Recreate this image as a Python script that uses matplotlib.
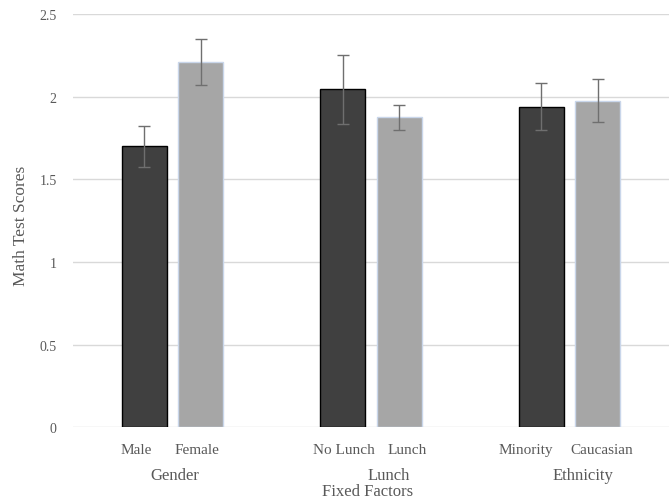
import matplotlib.pyplot as plt
import numpy as np

plt.rcParams['font.family'] = ['Liberation Serif', 'DejaVu Serif']

groups = ['Gender', 'Lunch', 'Ethnicity']
first_labels = ['Male', 'No Lunch', 'Minority']
second_labels = ['Female', 'Lunch', 'Caucasian']
first_means = [1.70, 2.045, 1.94]
first_err = [0.125, 0.21, 0.14]
second_means = [2.21, 1.875, 1.975]
second_err = [0.14, 0.077, 0.13]

text_color = '#595959'
px = 72 / 100  # points per pixel at dpi 100

fig = plt.figure(figsize=(6.72, 5.02), dpi=100)
ax = fig.add_axes([0.109, 0.147, 0.886, 0.823])

x = np.arange(len(groups))
w = 0.226
off = 0.142

ax.bar(x - off, first_means, w, color='#404040', edgecolor='black', linewidth=1.0, zorder=2)
ax.bar(x + off, second_means, w, color='#a6a6a6', edgecolor='#c9d6ea', linewidth=1.0, zorder=2)
ax.errorbar(x - off, first_means, yerr=first_err, fmt='none', ecolor='#6f6f6f',
            elinewidth=1.0, capsize=4, capthick=1.0, zorder=3)
ax.errorbar(x + off, second_means, yerr=second_err, fmt='none', ecolor='#6f6f6f',
            elinewidth=1.0, capsize=4, capthick=1.0, zorder=3)

ax.set_xlim(-0.5, 2.5)
ax.set_ylim(0, 2.5)
ax.set_yticks([0, 0.5, 1, 1.5, 2, 2.5])
ax.set_yticklabels(['0', '0.5', '1', '1.5', '2', '2.5'])
ax.yaxis.grid(True, color='#d9d9d9', linewidth=1.0, zorder=0)
ax.set_axisbelow(True)
for s in ax.spines.values():
    s.set_visible(False)
ax.tick_params(axis='y', length=0, pad=12, labelsize=10, labelcolor=text_color)
ax.set_xticks([])

# horizontal nudges (pixels) for the two-level category axis text
first_shift = [-8, 1.5, -15.5]
second_shift = [-3.5, 8, 4.5]
group_shift = [2, 18, 14]


def label(s, xv, dx, dy, size):
    ax.annotate(s, xy=(xv, 0), xycoords=('data', 'axes fraction'),
                xytext=(dx * px, -dy * px), textcoords='offset points',
                ha='center', va='center', fontsize=size, color=text_color)


for i in range(len(groups)):
    label(first_labels[i], x[i] - off, first_shift[i], 22, 11)
    label(second_labels[i], x[i] + off, second_shift[i], 22, 11)
    label(groups[i], x[i], group_shift[i], 48, 12)
label('Fixed Factors', 1, -3, 64, 12)

fig.text(21 / 672, 1 - 226 / 502, 'Math Test Scores', rotation=90, ha='center',
         va='center', fontsize=12.5, color=text_color)

fig.savefig('out.png', dpi=100)
